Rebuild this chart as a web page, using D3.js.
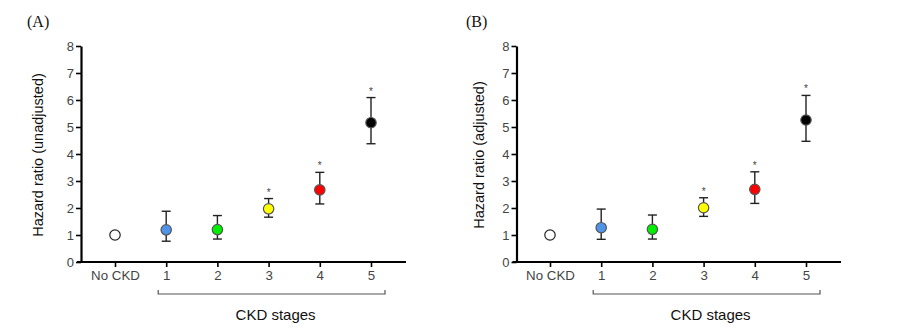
<!DOCTYPE html>
<html><head><meta charset="utf-8">
<script src="https://cdn.jsdelivr.net/npm/d3@7"></script>
<style>body{margin:0;background:#fff}svg{display:block}</style>
</head><body>
<svg id="c" width="903" height="333"></svg>
<script>
const categories = ["No CKD", "1", "2", "3", "4", "5"];
const colors = ["#ffffff", "#4f94e8", "#00ee00", "#ffff00", "#ff0000", "#000000"];
const yTicks = [0,1,2,3,4,5,6,7,8];
// Panel A (unadjusted)
const hrA = [1.0, 1.19, 1.2, 1.97, 2.67, 5.16];
const loA = [null, 0.77, 0.85, 1.66, 2.15, 4.38];
const hiA = [null, 1.88, 1.72, 2.35, 3.32, 6.09];
const sigA = [false, false, false, true, true, true];
// Panel B (adjusted)
const hrB = [1.0, 1.27, 1.21, 2.01, 2.69, 5.26];
const loB = [null, 0.84, 0.85, 1.69, 2.17, 4.47];
const hiB = [null, 1.96, 1.74, 2.38, 3.34, 6.17];
const sigB = [false, false, false, true, true, true];

const svg = d3.select("#c");
const SANS = "Liberation Sans, Arial, sans-serif";

function panel(opts) {
  const g = svg.append("g");
  const y = d3.scaleLinear().domain([0, 8]).range([262, 46]);
  const x = d3.scalePoint().domain(categories).range([opts.x0, opts.x0 + 5 * 51.2]);
  g.append("text").attr("x", opts.lx).attr("y", 27)
    .attr("font-family", "Liberation Serif, serif").attr("font-size", 16).attr("fill", "#111")
    .text(opts.label);
  const ya = g.append("g").attr("transform", `translate(${opts.ax},0)`)
    .call(d3.axisLeft(y).tickValues(yTicks).tickSize(5).tickPadding(2).tickSizeOuter(0));
  ya.select(".domain").attr("stroke", "#000").attr("stroke-width", 2.2);
  ya.selectAll(".tick line").attr("stroke", "#000").attr("stroke-width", 1.6);
  ya.selectAll(".tick text").attr("font-family", SANS).attr("font-size", 13).attr("fill", "#444");
  const xa = g.append("g").attr("transform", `translate(0,262)`)
    .call(d3.axisBottom(x).tickSize(5).tickPadding(4).tickSizeOuter(0));
  xa.select(".domain").attr("d", `M${opts.ax - 4},0H${opts.axEnd}`).attr("stroke", "#000").attr("stroke-width", 2.2);
  xa.selectAll(".tick line").attr("stroke", "#000").attr("stroke-width", 1.6);
  xa.selectAll(".tick text").attr("font-family", SANS).attr("font-size", 13.3).attr("fill", "#444");
  g.append("text").attr("transform", `translate(${opts.ylx},${155}) rotate(-90)`)
    .attr("text-anchor", "middle").attr("font-family", SANS)
    .attr("font-size", 14.5).attr("fill", "#111").text(opts.ylabel);
  const bx0 = x("1") - 8, bx1 = x("5") + 14;
  g.append("path").attr("d", `M${bx0},290V294H${bx1}V290`).attr("fill", "none")
    .attr("stroke", "#555").attr("stroke-width", 1.2);
  g.append("text").attr("x", (bx0 + bx1) / 2 + 4).attr("y", 320).attr("text-anchor", "middle")
    .attr("font-family", SANS).attr("font-size", 15).attr("fill", "#111")
    .text("CKD stages");
  categories.forEach((c, i) => {
    const cx = x(c);
    if (opts.lo[i] != null) {
      const eb = g.append("g").attr("stroke", "#222").attr("stroke-width", 1.4).attr("fill", "none");
      eb.append("line").attr("x1", cx).attr("x2", cx).attr("y1", y(opts.lo[i])).attr("y2", y(opts.hi[i]));
      eb.append("line").attr("x1", cx - 4.5).attr("x2", cx + 4.5).attr("y1", y(opts.lo[i])).attr("y2", y(opts.lo[i]));
      eb.append("line").attr("x1", cx - 4.5).attr("x2", cx + 4.5).attr("y1", y(opts.hi[i])).attr("y2", y(opts.hi[i]));
    }
    if (opts.sig[i]) {
      g.append("text").attr("x", cx).attr("y", y(opts.hi[i]) - 3).attr("text-anchor", "middle")
        .attr("font-family", SANS).attr("font-size", 10).attr("fill", "#444").text("*");
    }
  });
  g.selectAll("circle.pt").data(categories).join("circle").attr("class", "pt")
    .attr("cx", c => x(c)).attr("cy", (c, i) => y(opts.hr[i])).attr("r", 5.2)
    .attr("fill", (c, i) => colors[i]).attr("stroke", (c, i) => i === 0 ? "#222" : "#555").attr("stroke-width", 1.2);
}

panel({label: "(A)", lx: 27, ax: 81, x0: 115, axEnd: 406, ylx: 43, ylabel: "Hazard ratio (unadjusted)",
  hr: hrA, lo: loA, hi: hiA, sig: sigA});
panel({label: "(B)", lx: 466, ax: 516.5, x0: 550, axEnd: 841, ylx: 484, ylabel: "Hazard ratio (adjusted)",
  hr: hrB, lo: loB, hi: hiB, sig: sigB});
</script>
</body></html>
